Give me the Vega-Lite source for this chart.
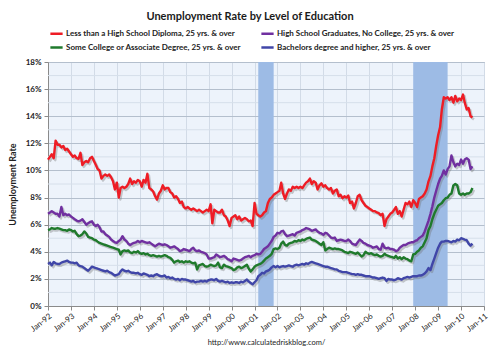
{
  "$schema": "https://vega.github.io/schema/vega-lite/v6.json",
  "width": 436,
  "height": 244,
  "autosize": "none",
  "padding": {"left": 48, "top": 62, "right": 16, "bottom": 50},
  "background": "white",
  "title": {"text": "Unemployment Rate by Level of Education", "anchor": "middle", "dx": -16, "offset": 4, "font": "Lato", "fontSize": 11, "fontWeight": "bold", "color": "#1a1a1a"},
  "config": {
    "view": {"fill": "#edf3fb", "stroke": "#9ea8b6", "strokeWidth": 1},
    "axis": {"labelFont": "Lato", "labelFontSize": 8, "labelColor": "#222", "titleFont": "Lato", "domainColor": "#8a8a8a", "tickColor": "#8a8a8a"},
    "axisY": {"labelOverlap": false, "labelSeparation": 0},
    "axisQuantitative": {"labelOverlap": false}
  },
  "datasets": {
    "minor": [{"m": 1}, {"m": 3}, {"m": 5}, {"m": 7}, {"m": 9}, {"m": 11}, {"m": 13}, {"m": 15}, {"m": 17}],
    "rec": [
      {"d": "2001-03-01", "d2": "2001-11-01"},
      {"d": "2007-12-01", "d2": "2009-06-01"}
    ],
    "edu": [
      {"d":"1992-01-01","a":10.8,"b":6.8,"c":5.6,"e":3.1},
      {"d":"1992-02-01","a":11.0,"b":6.9,"c":5.65,"e":3.2},
      {"d":"1992-03-01","a":11.2,"b":7.0,"c":5.75,"e":3.0},
      {"d":"1992-04-01","a":10.9,"b":6.9,"c":5.7,"e":3.25},
      {"d":"1992-05-01","a":12.2,"b":6.8,"c":5.7,"e":3.15},
      {"d":"1992-06-01","a":11.9,"b":6.8,"c":5.75,"e":3.1},
      {"d":"1992-07-01","a":11.9,"b":6.6,"c":5.7,"e":3.1},
      {"d":"1992-08-01","a":11.7,"b":7.3,"c":5.65,"e":3.2},
      {"d":"1992-09-01","a":11.8,"b":6.7,"c":5.6,"e":3.25},
      {"d":"1992-10-01","a":11.5,"b":6.8,"c":5.6,"e":3.3},
      {"d":"1992-11-01","a":11.6,"b":6.7,"c":5.55,"e":3.35},
      {"d":"1992-12-01","a":11.4,"b":6.75,"c":5.65,"e":3.25},
      {"d":"1993-01-01","a":11.2,"b":6.6,"c":5.6,"e":3.2},
      {"d":"1993-02-01","a":11.0,"b":6.5,"c":5.5,"e":3.2},
      {"d":"1993-03-01","a":11.1,"b":6.4,"c":5.55,"e":3.15},
      {"d":"1993-04-01","a":10.9,"b":6.3,"c":5.3,"e":3.2},
      {"d":"1993-05-01","a":10.85,"b":6.25,"c":5.15,"e":3.0},
      {"d":"1993-06-01","a":11.3,"b":6.3,"c":5.2,"e":2.95},
      {"d":"1993-07-01","a":10.4,"b":6.4,"c":5.3,"e":2.9},
      {"d":"1993-08-01","a":10.6,"b":6.2,"c":5.5,"e":2.8},
      {"d":"1993-09-01","a":10.7,"b":6.0,"c":5.35,"e":2.7},
      {"d":"1993-10-01","a":10.6,"b":6.1,"c":5.1,"e":2.6},
      {"d":"1993-11-01","a":10.9,"b":6.2,"c":5.05,"e":2.75},
      {"d":"1993-12-01","a":11.0,"b":6.25,"c":5.0,"e":2.9},
      {"d":"1994-01-01","a":10.7,"b":6.0,"c":4.9,"e":2.85},
      {"d":"1994-02-01","a":10.4,"b":5.9,"c":4.85,"e":2.8},
      {"d":"1994-03-01","a":10.1,"b":6.0,"c":4.75,"e":2.75},
      {"d":"1994-04-01","a":10.0,"b":5.8,"c":4.65,"e":2.7},
      {"d":"1994-05-01","a":9.4,"b":5.5,"c":4.6,"e":2.65},
      {"d":"1994-06-01","a":9.6,"b":5.5,"c":4.55,"e":2.6},
      {"d":"1994-07-01","a":9.7,"b":5.3,"c":4.5,"e":2.55},
      {"d":"1994-08-01","a":9.6,"b":5.2,"c":4.45,"e":2.6},
      {"d":"1994-09-01","a":9.7,"b":5.1,"c":4.4,"e":2.5},
      {"d":"1994-10-01","a":9.5,"b":4.9,"c":4.35,"e":2.45},
      {"d":"1994-11-01","a":9.2,"b":4.8,"c":4.3,"e":2.35},
      {"d":"1994-12-01","a":8.6,"b":4.7,"c":4.25,"e":2.25},
      {"d":"1995-01-01","a":9.1,"b":4.66,"c":4.2,"e":2.3},
      {"d":"1995-02-01","a":8.0,"b":4.8,"c":4.15,"e":2.35},
      {"d":"1995-03-01","a":8.7,"b":4.9,"c":3.8,"e":2.55},
      {"d":"1995-04-01","a":8.8,"b":5.15,"c":4.05,"e":2.7},
      {"d":"1995-05-01","a":8.7,"b":4.9,"c":4.1,"e":2.6},
      {"d":"1995-06-01","a":8.8,"b":4.8,"c":4.05,"e":2.55},
      {"d":"1995-07-01","a":9.0,"b":4.6,"c":4.1,"e":2.6},
      {"d":"1995-08-01","a":9.4,"b":4.5,"c":3.95,"e":2.5},
      {"d":"1995-09-01","a":9.0,"b":4.6,"c":3.9,"e":2.45},
      {"d":"1995-10-01","a":9.2,"b":4.65,"c":4.0,"e":2.45},
      {"d":"1995-11-01","a":9.1,"b":4.7,"c":3.95,"e":2.4},
      {"d":"1995-12-01","a":9.3,"b":4.8,"c":4.05,"e":2.45},
      {"d":"1996-01-01","a":9.2,"b":4.7,"c":3.9,"e":2.35},
      {"d":"1996-02-01","a":8.8,"b":4.8,"c":3.85,"e":2.3},
      {"d":"1996-03-01","a":9.3,"b":4.75,"c":3.9,"e":2.4},
      {"d":"1996-04-01","a":9.1,"b":4.7,"c":3.8,"e":2.35},
      {"d":"1996-05-01","a":9.75,"b":4.65,"c":3.85,"e":2.3},
      {"d":"1996-06-01","a":8.7,"b":4.7,"c":3.75,"e":2.2},
      {"d":"1996-07-01","a":8.6,"b":4.6,"c":3.7,"e":2.25},
      {"d":"1996-08-01","a":8.45,"b":4.5,"c":3.75,"e":2.2},
      {"d":"1996-09-01","a":8.1,"b":4.4,"c":3.7,"e":2.3},
      {"d":"1996-10-01","a":7.85,"b":4.5,"c":3.65,"e":2.35},
      {"d":"1996-11-01","a":8.3,"b":4.6,"c":3.7,"e":2.25},
      {"d":"1996-12-01","a":8.5,"b":4.55,"c":3.65,"e":2.2},
      {"d":"1997-01-01","a":8.9,"b":4.5,"c":3.7,"e":2.2},
      {"d":"1997-02-01","a":8.6,"b":4.55,"c":3.75,"e":2.25},
      {"d":"1997-03-01","a":8.7,"b":4.5,"c":3.7,"e":2.1},
      {"d":"1997-04-01","a":8.7,"b":4.4,"c":3.6,"e":2.15},
      {"d":"1997-05-01","a":8.4,"b":4.3,"c":3.55,"e":2.05},
      {"d":"1997-06-01","a":8.3,"b":4.35,"c":3.4,"e":2.1},
      {"d":"1997-07-01","a":8.0,"b":4.4,"c":3.2,"e":2.0},
      {"d":"1997-08-01","a":8.1,"b":4.3,"c":3.3,"e":1.95},
      {"d":"1997-09-01","a":7.9,"b":4.2,"c":3.35,"e":2.0},
      {"d":"1997-10-01","a":7.6,"b":4.05,"c":3.25,"e":1.9},
      {"d":"1997-11-01","a":7.7,"b":4.1,"c":3.3,"e":2.0},
      {"d":"1997-12-01","a":7.3,"b":4.2,"c":3.2,"e":1.95},
      {"d":"1998-01-01","a":7.2,"b":4.15,"c":3.3,"e":1.95},
      {"d":"1998-02-01","a":7.3,"b":4.1,"c":3.25,"e":1.9},
      {"d":"1998-03-01","a":7.2,"b":4.05,"c":3.3,"e":1.85},
      {"d":"1998-04-01","a":7.1,"b":4.2,"c":3.2,"e":1.8},
      {"d":"1998-05-01","a":7.2,"b":4.3,"c":3.15,"e":1.85},
      {"d":"1998-06-01","a":7.1,"b":4.1,"c":3.2,"e":1.75},
      {"d":"1998-07-01","a":7.0,"b":4.05,"c":2.7,"e":1.8},
      {"d":"1998-08-01","a":7.1,"b":4.1,"c":3.0,"e":1.8},
      {"d":"1998-09-01","a":7.0,"b":4.0,"c":3.05,"e":1.85},
      {"d":"1998-10-01","a":6.9,"b":3.95,"c":3.1,"e":1.8},
      {"d":"1998-11-01","a":7.0,"b":3.9,"c":2.95,"e":1.85},
      {"d":"1998-12-01","a":7.1,"b":3.8,"c":2.9,"e":1.8},
      {"d":"1999-01-01","a":7.0,"b":3.5,"c":2.95,"e":1.9},
      {"d":"1999-02-01","a":7.5,"b":3.5,"c":3.05,"e":1.95},
      {"d":"1999-03-01","a":6.1,"b":3.55,"c":3.0,"e":1.95},
      {"d":"1999-04-01","a":7.1,"b":3.6,"c":2.95,"e":1.9},
      {"d":"1999-05-01","a":7.0,"b":3.8,"c":3.0,"e":2.0},
      {"d":"1999-06-01","a":6.9,"b":3.7,"c":3.2,"e":1.85},
      {"d":"1999-07-01","a":6.9,"b":3.6,"c":2.85,"e":1.8},
      {"d":"1999-08-01","a":7.1,"b":3.65,"c":2.8,"e":1.85},
      {"d":"1999-09-01","a":6.7,"b":3.7,"c":3.05,"e":1.8},
      {"d":"1999-10-01","a":6.6,"b":3.6,"c":2.95,"e":1.75},
      {"d":"1999-11-01","a":6.3,"b":3.45,"c":2.9,"e":1.8},
      {"d":"1999-12-01","a":5.9,"b":3.4,"c":2.85,"e":1.7},
      {"d":"2000-01-01","a":6.5,"b":3.3,"c":2.8,"e":1.75},
      {"d":"2000-02-01","a":6.6,"b":3.5,"c":2.65,"e":1.7},
      {"d":"2000-03-01","a":6.7,"b":3.45,"c":2.7,"e":1.75},
      {"d":"2000-04-01","a":6.4,"b":3.4,"c":2.85,"e":1.75},
      {"d":"2000-05-01","a":6.6,"b":3.35,"c":2.9,"e":1.7},
      {"d":"2000-06-01","a":6.3,"b":3.4,"c":2.8,"e":1.8},
      {"d":"2000-07-01","a":6.4,"b":3.5,"c":2.85,"e":1.75},
      {"d":"2000-08-01","a":6.5,"b":3.6,"c":2.95,"e":1.85},
      {"d":"2000-09-01","a":6.4,"b":3.65,"c":3.05,"e":1.95},
      {"d":"2000-10-01","a":6.25,"b":3.7,"c":2.75,"e":1.8},
      {"d":"2000-11-01","a":6.3,"b":3.6,"c":2.55,"e":1.7},
      {"d":"2000-12-01","a":5.9,"b":3.7,"c":2.7,"e":1.6},
      {"d":"2001-01-01","a":7.6,"b":3.75,"c":2.9,"e":1.75},
      {"d":"2001-02-01","a":6.8,"b":3.85,"c":3.0,"e":1.9},
      {"d":"2001-03-01","a":6.7,"b":3.8,"c":3.05,"e":2.2},
      {"d":"2001-04-01","a":6.6,"b":3.85,"c":3.1,"e":2.3},
      {"d":"2001-05-01","a":6.7,"b":4.0,"c":3.2,"e":2.45},
      {"d":"2001-06-01","a":6.9,"b":4.2,"c":3.35,"e":2.4},
      {"d":"2001-07-01","a":7.0,"b":4.3,"c":3.5,"e":2.55},
      {"d":"2001-08-01","a":7.6,"b":4.4,"c":3.6,"e":2.6},
      {"d":"2001-09-01","a":7.9,"b":4.6,"c":3.7,"e":2.7},
      {"d":"2001-10-01","a":8.0,"b":4.8,"c":3.85,"e":2.85},
      {"d":"2001-11-01","a":8.2,"b":5.1,"c":4.2,"e":2.95},
      {"d":"2001-12-01","a":8.3,"b":5.2,"c":4.25,"e":2.85},
      {"d":"2002-01-01","a":8.4,"b":5.4,"c":4.2,"e":2.95},
      {"d":"2002-02-01","a":8.5,"b":5.35,"c":4.3,"e":2.85},
      {"d":"2002-03-01","a":9.1,"b":5.5,"c":4.6,"e":2.9},
      {"d":"2002-04-01","a":8.3,"b":5.55,"c":4.75,"e":2.95},
      {"d":"2002-05-01","a":7.9,"b":5.3,"c":4.5,"e":2.9},
      {"d":"2002-06-01","a":8.3,"b":5.15,"c":4.45,"e":2.95},
      {"d":"2002-07-01","a":8.6,"b":5.2,"c":4.6,"e":3.0},
      {"d":"2002-08-01","a":8.5,"b":5.25,"c":4.65,"e":2.95},
      {"d":"2002-09-01","a":8.8,"b":5.3,"c":4.7,"e":2.9},
      {"d":"2002-10-01","a":8.7,"b":5.2,"c":4.8,"e":3.0},
      {"d":"2002-11-01","a":8.8,"b":5.4,"c":4.75,"e":3.05},
      {"d":"2002-12-01","a":8.7,"b":5.45,"c":4.85,"e":3.0},
      {"d":"2003-01-01","a":8.8,"b":5.5,"c":4.8,"e":3.05},
      {"d":"2003-02-01","a":8.7,"b":5.6,"c":4.9,"e":3.1},
      {"d":"2003-03-01","a":8.9,"b":5.65,"c":4.85,"e":3.05},
      {"d":"2003-04-01","a":9.1,"b":5.75,"c":4.95,"e":3.15},
      {"d":"2003-05-01","a":9.2,"b":5.7,"c":5.0,"e":3.1},
      {"d":"2003-06-01","a":9.4,"b":5.65,"c":5.05,"e":3.2},
      {"d":"2003-07-01","a":9.0,"b":5.55,"c":4.9,"e":3.25},
      {"d":"2003-08-01","a":9.2,"b":5.6,"c":4.85,"e":3.2},
      {"d":"2003-09-01","a":9.1,"b":5.65,"c":4.8,"e":3.15},
      {"d":"2003-10-01","a":8.6,"b":5.5,"c":4.7,"e":3.1},
      {"d":"2003-11-01","a":8.9,"b":5.4,"c":4.6,"e":3.05},
      {"d":"2003-12-01","a":9.05,"b":5.35,"c":4.5,"e":3.0},
      {"d":"2004-01-01","a":8.8,"b":5.25,"c":4.7,"e":2.95},
      {"d":"2004-02-01","a":8.9,"b":5.4,"c":4.1,"e":2.9},
      {"d":"2004-03-01","a":8.7,"b":5.35,"c":4.2,"e":2.9},
      {"d":"2004-04-01","a":8.6,"b":5.2,"c":4.3,"e":2.85},
      {"d":"2004-05-01","a":8.7,"b":5.05,"c":4.25,"e":2.8},
      {"d":"2004-06-01","a":8.3,"b":5.0,"c":4.2,"e":2.75},
      {"d":"2004-07-01","a":8.5,"b":5.05,"c":4.25,"e":2.7},
      {"d":"2004-08-01","a":8.6,"b":4.8,"c":4.2,"e":2.7},
      {"d":"2004-09-01","a":8.1,"b":4.85,"c":4.2,"e":2.6},
      {"d":"2004-10-01","a":8.2,"b":4.9,"c":4.15,"e":2.55},
      {"d":"2004-11-01","a":7.95,"b":4.85,"c":4.1,"e":2.5},
      {"d":"2004-12-01","a":8.1,"b":4.8,"c":4.0,"e":2.5},
      {"d":"2005-01-01","a":8.0,"b":4.8,"c":3.95,"e":2.5},
      {"d":"2005-02-01","a":8.15,"b":4.9,"c":3.9,"e":2.45},
      {"d":"2005-03-01","a":7.6,"b":4.8,"c":4.0,"e":2.4},
      {"d":"2005-04-01","a":7.7,"b":4.6,"c":3.95,"e":2.35},
      {"d":"2005-05-01","a":7.2,"b":4.55,"c":3.9,"e":2.35},
      {"d":"2005-06-01","a":7.6,"b":4.5,"c":3.85,"e":2.3},
      {"d":"2005-07-01","a":8.1,"b":4.7,"c":3.95,"e":2.35},
      {"d":"2005-08-01","a":8.2,"b":4.9,"c":3.8,"e":2.3},
      {"d":"2005-09-01","a":7.8,"b":4.8,"c":3.65,"e":2.3},
      {"d":"2005-10-01","a":7.6,"b":4.65,"c":3.75,"e":2.25},
      {"d":"2005-11-01","a":7.4,"b":4.6,"c":4.0,"e":2.2},
      {"d":"2005-12-01","a":7.3,"b":4.5,"c":3.9,"e":2.2},
      {"d":"2006-01-01","a":7.2,"b":4.45,"c":3.85,"e":2.2},
      {"d":"2006-02-01","a":7.1,"b":4.4,"c":3.9,"e":2.15},
      {"d":"2006-03-01","a":7.0,"b":4.3,"c":3.8,"e":2.1},
      {"d":"2006-04-01","a":7.0,"b":4.35,"c":3.75,"e":2.1},
      {"d":"2006-05-01","a":6.9,"b":4.4,"c":3.8,"e":2.05},
      {"d":"2006-06-01","a":6.85,"b":4.2,"c":3.7,"e":2.0},
      {"d":"2006-07-01","a":6.7,"b":4.15,"c":3.65,"e":2.05},
      {"d":"2006-08-01","a":6.8,"b":4.6,"c":3.7,"e":2.1},
      {"d":"2006-09-01","a":5.9,"b":4.3,"c":3.85,"e":2.05},
      {"d":"2006-10-01","a":6.4,"b":4.25,"c":3.75,"e":1.85},
      {"d":"2006-11-01","a":6.6,"b":4.3,"c":3.7,"e":2.0},
      {"d":"2006-12-01","a":6.8,"b":4.2,"c":3.65,"e":1.95},
      {"d":"2007-01-01","a":6.9,"b":4.2,"c":3.6,"e":1.95},
      {"d":"2007-02-01","a":7.1,"b":4.15,"c":3.55,"e":1.9},
      {"d":"2007-03-01","a":7.3,"b":4.05,"c":3.7,"e":1.95},
      {"d":"2007-04-01","a":6.8,"b":4.1,"c":3.5,"e":2.05},
      {"d":"2007-05-01","a":7.0,"b":4.3,"c":3.6,"e":2.0},
      {"d":"2007-06-01","a":6.6,"b":4.4,"c":3.45,"e":1.95},
      {"d":"2007-07-01","a":7.1,"b":4.5,"c":3.6,"e":2.05},
      {"d":"2007-08-01","a":7.6,"b":4.5,"c":3.5,"e":2.1},
      {"d":"2007-09-01","a":7.5,"b":4.6,"c":3.45,"e":2.15},
      {"d":"2007-10-01","a":7.7,"b":4.65,"c":3.35,"e":2.1},
      {"d":"2007-11-01","a":7.3,"b":4.7,"c":3.3,"e":2.15},
      {"d":"2007-12-01","a":7.8,"b":4.7,"c":3.8,"e":2.2},
      {"d":"2008-01-01","a":7.6,"b":4.8,"c":3.85,"e":2.2},
      {"d":"2008-02-01","a":7.3,"b":4.85,"c":4.0,"e":2.2},
      {"d":"2008-03-01","a":7.9,"b":5.0,"c":4.1,"e":2.25},
      {"d":"2008-04-01","a":8.0,"b":5.1,"c":4.3,"e":2.25},
      {"d":"2008-05-01","a":8.1,"b":5.2,"c":4.4,"e":2.3},
      {"d":"2008-06-01","a":8.3,"b":5.5,"c":4.7,"e":2.4},
      {"d":"2008-07-01","a":8.6,"b":5.9,"c":5.0,"e":2.55},
      {"d":"2008-08-01","a":9.2,"b":6.3,"c":5.6,"e":2.8},
      {"d":"2008-09-01","a":9.6,"b":6.8,"c":5.9,"e":2.65},
      {"d":"2008-10-01","a":10.3,"b":7.35,"c":6.4,"e":3.1},
      {"d":"2008-11-01","a":10.9,"b":8.0,"c":6.8,"e":3.5},
      {"d":"2008-12-01","a":11.8,"b":8.5,"c":7.1,"e":3.9},
      {"d":"2009-01-01","a":12.6,"b":9.0,"c":7.4,"e":4.3},
      {"d":"2009-02-01","a":13.2,"b":9.4,"c":7.5,"e":4.6},
      {"d":"2009-03-01","a":14.5,"b":9.6,"c":7.6,"e":4.75},
      {"d":"2009-04-01","a":15.4,"b":10.0,"c":7.8,"e":4.75},
      {"d":"2009-05-01","a":15.3,"b":9.7,"c":7.95,"e":4.8},
      {"d":"2009-06-01","a":15.4,"b":10.1,"c":8.0,"e":4.8},
      {"d":"2009-07-01","a":15.2,"b":10.3,"c":8.2,"e":4.75},
      {"d":"2009-08-01","a":15.4,"b":11.1,"c":8.3,"e":4.7},
      {"d":"2009-09-01","a":15.0,"b":10.6,"c":8.9,"e":4.8},
      {"d":"2009-10-01","a":15.5,"b":10.3,"c":9.0,"e":4.75},
      {"d":"2009-11-01","a":15.1,"b":10.5,"c":8.9,"e":4.9},
      {"d":"2009-12-01","a":15.3,"b":10.4,"c":8.3,"e":4.85},
      {"d":"2010-01-01","a":15.2,"b":10.8,"c":8.2,"e":5.0},
      {"d":"2010-02-01","a":15.6,"b":10.5,"c":8.3,"e":4.95},
      {"d":"2010-03-01","a":15.0,"b":10.8,"c":8.2,"e":4.9},
      {"d":"2010-04-01","a":14.5,"b":10.9,"c":8.3,"e":4.85},
      {"d":"2010-05-01","a":14.6,"b":10.8,"c":8.3,"e":4.6},
      {"d":"2010-06-01","a":14.0,"b":10.1,"c":8.4,"e":4.45},
      {"d":"2010-07-01","a":13.9,"b":10.3,"c":8.7,"e":4.6}
    ]
  },
  "layer": [
    {
      "data": {"name": "minor"},
      "mark": {"type": "rule", "color": "#d6dfea", "strokeWidth": 1},
      "encoding": {
        "y": {"field": "m", "type": "quantitative", "scale": {"domain": [0, 18], "nice": false}}
      }
    },
    {
      "data": {"name": "rec"},
      "mark": {"type": "rect", "color": "#9dbbe5", "opacity": 1},
      "encoding": {
        "x": {"field": "d", "type": "temporal"},
        "x2": {"field": "d2"}
      }
    },
    {
      "data": {"name": "edu"},
      "transform": [{"fold": ["a", "b", "c", "e"], "as": ["k", "v"]}],
      "mark": {"type": "line", "strokeWidth": 2.6, "color": "#6d6d6d", "opacity": 0.35, "xOffset": 1.5, "yOffset": 1.8, "strokeJoin": "round"},
      "encoding": {
        "x": {"field": "d", "type": "temporal"},
        "y": {"field": "v", "type": "quantitative"},
        "detail": {"field": "k", "type": "nominal"}
      }
    },
    {
      "data": {"name": "edu"},
      "transform": [{"fold": ["a", "b", "c", "e"], "as": ["k", "v"]}],
      "mark": {"type": "line", "strokeWidth": 2.4, "strokeJoin": "round"},
      "encoding": {
        "x": {
          "field": "d", "type": "temporal",
          "scale": {"type": "utc", "domain": [{"year": 1992, "month": 1, "date": 1, "utc": true}, {"year": 2011, "month": 1, "date": 1, "utc": true}]},
          "axis": {
            "title": "http://www.calculatedriskblog.com/",
            "titleFont": "Lato", "titleFontSize": 7.5, "titleFontWeight": "normal", "titleColor": "#222", "titlePadding": 5,
            "tickCount": {"interval": "year", "step": 1},
            "labelExpr": "utcFormat(datum.value, '%b-%y')",
            "labelAngle": -38, "labelAlign": "right", "labelBaseline": "top", "labelPadding": 2,
            "tickSize": 4, "grid": true, "gridColor": "#d2dbe7", "gridWidth": 1, "labelOverlap": false
          }
        },
        "y": {
          "field": "v", "type": "quantitative",
          "scale": {"domain": [0, 18], "nice": false},
          "axis": {
            "title": "Unemployment Rate", "titleFont": "Lato", "titleFontSize": 9, "titleFontWeight": "bold", "titleColor": "#222", "titlePadding": 8,
            "values": [0, 2, 4, 6, 8, 10, 12, 14, 16, 18],
            "tickCount": 10,
            "labelExpr": "datum.value + '%'",
            "labelFontWeight": "bold", "labelPadding": 3, "labelOverlap": false, "labelSeparation": 0,
            "tickSize": 4,
            "grid": true, "gridColor": "#b4bfcd"
          }
        },
        "color": {
          "field": "k", "type": "nominal",
          "scale": {"domain": ["a", "b", "c", "e"], "range": ["#ee1c25", "#7030a0", "#1f7a2c", "#4046a8"]},
          "legend": {
            "title": null, "orient": "none", "direction": "horizontal", "legendX": 1, "legendY": -36, "columns": 2,
            "columnPadding": 14, "rowPadding": 1,
            "symbolType": "stroke", "symbolSize": 150, "symbolStrokeWidth": 2.5, "labelOffset": 2,
            "labelFont": "Lato", "labelFontSize": 8, "labelFontWeight": "bold", "labelColor": "#222", "labelLimit": 300,
            "labelExpr": "datum.label == 'a' ? 'Less than a High School Diploma, 25 yrs. & over' : datum.label == 'b' ? 'High School Graduates, No College, 25 yrs. & over' : datum.label == 'c' ? 'Some College or Associate Degree, 25 yrs. & over' : 'Bachelors degree and higher, 25 yrs. & over'"
          }
        }
      }
    }
  ]
}
